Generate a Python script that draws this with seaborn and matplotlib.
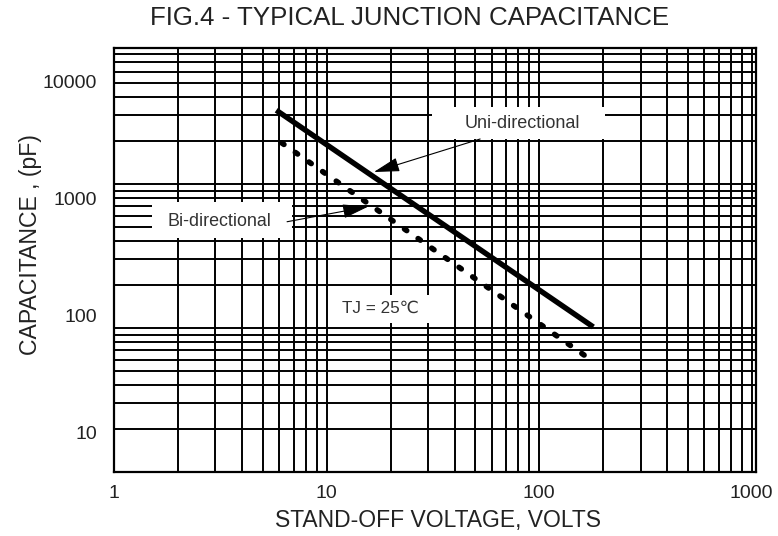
import matplotlib
matplotlib.use("Agg")
import matplotlib.pyplot as plt
import seaborn as sns
import pandas as pd
from matplotlib.patches import Rectangle
from matplotlib.ticker import NullFormatter, FixedLocator

# ---- data ----
uni_voltage = [5.8, 180]
uni_capacitance = [5700, 80]
bi_voltage = [6.15, 163]
bi_capacitance = [3000, 46]
x_ticks = [1, 10, 100, 1000]
x_tick_labels = ["1", "10", "100", "1000"]
y_ticks = [10, 100, 1000, 10000]
y_tick_labels = ["10", "100", "1000", "10000"]

sns.set_theme(style="white")
narrow = ["Liberation Sans Narrow", "Liberation Sans", "DejaVu Sans"]
regular = ["Liberation Sans", "DejaVu Sans"]
plt.rcParams["font.family"] = regular

fig = plt.figure(figsize=(7.78, 5.36), dpi=100)
pos = [114 / 778, 1 - 472 / 536, (755.7 - 114) / 778, (472 - 48) / 536]

# grid axes (behind)
axg = fig.add_axes(pos, zorder=0)
axg.set_xscale("log")
axg.set_yscale("log")
axg.set_xlim(1, 1045)
axg.set_ylim(10, 8800)
axg.grid(True, which="both", color="black", linewidth=1.4)
axg.tick_params(which="both", length=0, labelleft=False, labelbottom=False)
axg.xaxis.set_minor_formatter(NullFormatter())
axg.yaxis.set_minor_formatter(NullFormatter())
for s in axg.spines.values():
    s.set_visible(False)

# data axes (front)
ax = fig.add_axes(pos, zorder=1)
ax.patch.set_visible(False)
ax.set_xscale("log")
ax.set_yscale("log")
ax.set_xlim(1, 1045)
ax.set_ylim(4.61, 19400)

uni = pd.DataFrame({"v": uni_voltage, "c": uni_capacitance})
bi = pd.DataFrame({"v": bi_voltage, "c": bi_capacitance})
sns.lineplot(data=uni, x="v", y="c", ax=ax, color="black", linewidth=3.9,
             solid_capstyle="butt", zorder=3, legend=False)
sns.lineplot(data=bi, x="v", y="c", ax=ax, color="black", linewidth=4.0,
             linestyle=(0, (0.5, 2.5)), dash_capstyle="round", zorder=3, legend=False)

ax.xaxis.set_major_locator(FixedLocator(x_ticks))
ax.set_xticklabels(x_tick_labels)
ax.yaxis.set_major_locator(FixedLocator(y_ticks))
ax.set_yticklabels(y_tick_labels)
ax.xaxis.set_minor_formatter(NullFormatter())
ax.yaxis.set_minor_formatter(NullFormatter())
ax.tick_params(which="both", length=0)
ax.tick_params(axis="x", pad=9)
ax.tick_params(axis="y", pad=12)
for lab in ax.get_xticklabels() + ax.get_yticklabels():
    lab.set_family(narrow)
    lab.set_fontsize(14)
    lab.set_color("#222222")
ax.set_xlabel("")
ax.set_ylabel("")
for s in ax.spines.values():
    s.set_visible(True)
    s.set_color("black")
    s.set_linewidth(1.6)

# white label boxes
for (x0, y0, w, h) in [(0.4956, 0.7854, 0.2696, 0.0755),
                       (0.0592, 0.5519, 0.2182, 0.0849),
                       (0.3366, 0.3514, 0.1552, 0.0661)]:
    ax.add_patch(Rectangle((x0, y0), w, h, transform=ax.transAxes,
                           facecolor="white", edgecolor="none", zorder=2))

# annotations
arrow = dict(arrowstyle="-|>,head_length=0.8,head_width=0.22",
             mutation_scale=20, color="black", lw=0.8, shrinkA=0, shrinkB=0)
ax.text(83.6, 4350, "Uni-directional", ha="center", va="center",
        fontsize=13, color="#333333", zorder=4)
ax.annotate("", xy=(16.7, 1690), xytext=(52.8, 3236), arrowprops=arrow, zorder=4)
ax.text(3.15, 635, "Bi-directional", ha="center", va="center",
        fontsize=12.9, color="#333333", zorder=4)
ax.annotate("", xy=(15.7, 855), xytext=(6.52, 635), arrowprops=arrow, zorder=4)
ax.text(18.0, 115.6, "TJ = 25\u2103", ha="center", va="center",
        fontsize=12.3, color="#333333", zorder=4, family=regular)

fig.text(0.527, 0.966, "FIG.4 - TYPICAL JUNCTION CAPACITANCE", ha="center",
         va="center", fontsize=18.6, family=narrow, color="#222222")
fig.text(0.563, 0.028, "STAND-OFF VOLTAGE, VOLTS", ha="center", va="center",
         fontsize=16.5, family=narrow, color="#222222")
fig.text(0.0386, 0.543, "CAPACITANCE , (pF)", ha="center", va="center",
         rotation=90, fontsize=16.6, family=narrow, color="#222222")

fig.savefig("out.png", dpi=100, facecolor="white")
